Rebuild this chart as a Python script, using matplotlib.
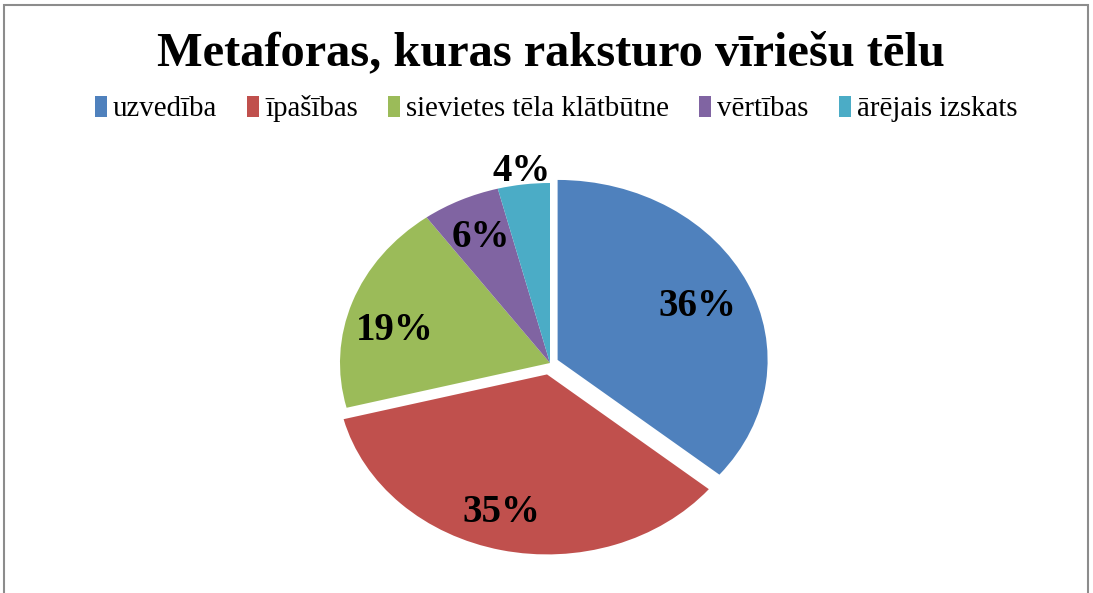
import numpy as np
import matplotlib
matplotlib.use("Agg")
import matplotlib.pyplot as plt
from matplotlib.patches import Rectangle

title = "Metaforas, kuras raksturo vīriešu tēlu"
categories = ["uzvedība", "īpašības", "sievietes tēla klātbūtne", "vērtības", "ārējais izskats"]
shares = [36, 35, 19, 6, 4]
colors = ["#4F81BD", "#C0504D", "#9BBB59", "#8064A2", "#4BACC6"]
explode = [0.04, 0.065, 0, 0, 0]
# label placement (radius, angle nudge in degrees), like Excel's best fit
label_r = [0.77, 0.86, 0.76, 0.77, 1.07]
label_da = [-1, -3, 6, 0, 0]

W, H = 1093, 593
fig = plt.figure(figsize=(W / 100, H / 100), dpi=100)
fig.patch.set_facecolor("white")

# pie centre and radii in pixels (the reference is stretched, so not round)
cx, cy, rx, ry = 550, 363, 210, 180
lim = 1.4
ax = fig.add_axes([(cx - rx * lim) / W, (H - cy - ry * lim) / H,
                   2 * rx * lim / W, 2 * ry * lim / H])
wedges, texts, autotexts = ax.pie(
    shares, colors=colors, explode=explode, startangle=90, counterclock=False,
    autopct="%1.0f%%", pctdistance=0.77,
    wedgeprops=dict(linewidth=0),
    textprops=dict(family="Liberation Serif", fontsize=28, fontweight="bold", color="black"),
)
ax.set_aspect("auto")
ax.set_xlim(-lim, lim)
ax.set_ylim(-lim, lim)
ax.axis("off")

for w, t, r, da in zip(wedges, autotexts, label_r, label_da):
    ang = np.deg2rad((w.theta1 + w.theta2) / 2 + da)
    t.set_position((r * np.cos(ang), r * np.sin(ang)))

fig.text((158 + 943) / 2 / W, 1 - 53 / H, title, ha="center", va="center",
         family="Liberation Serif", fontsize=34.8, fontweight="bold")

fig.legend(wedges, categories, loc="center", bbox_to_anchor=(556 / W, 1 - 109 / H),
           ncol=5, frameon=False, handlelength=0.42, handleheight=0.72,
           handletextpad=0.2, columnspacing=1.05,
           prop=dict(family="Liberation Serif", size=20.8))

fig.patches.append(Rectangle((4 / W, -0.05), (1088 - 4) / W, 1.05 - 5 / H,
                             transform=fig.transFigure, fill=False,
                             edgecolor="#8C8C8C", linewidth=1.5))

fig.savefig("out.png", dpi=100)
